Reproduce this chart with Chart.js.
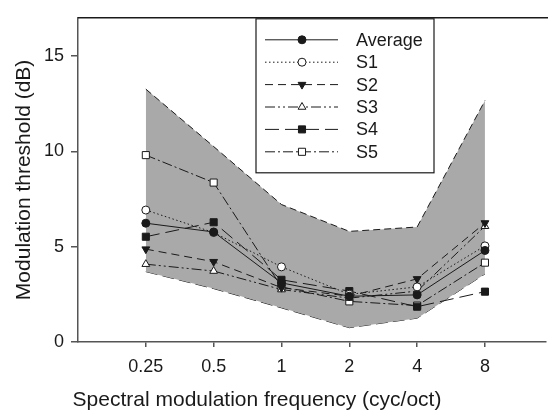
<!DOCTYPE html>
<html><head><meta charset="utf-8">
<script src="https://cdn.jsdelivr.net/npm/chart.js@4/dist/chart.umd.min.js"></script>
<style>html,body{margin:0;padding:0;background:#fff}#wrap{width:552px;height:417px;position:relative}</style>
</head><body><div id="wrap"><canvas id="c"></canvas></div>
<script>
const freqLabels = ['0.25', '0.5', '1', '2', '4', '8'];
const average = [6.23, 5.77, 3.10, 2.40, 2.47, 4.80];
const s1 = [6.92, 5.74, 3.94, 2.50, 2.89, 5.04];
const s2 = [4.87, 4.21, 2.85, 2.40, 3.31, 6.24];
const s3 = [4.08, 3.72, 2.75, 2.30, 2.67, 6.07];
const s4 = [5.52, 6.28, 3.26, 2.67, 1.85, 2.64];
const s5 = [9.80, 8.36, 2.89, 2.13, 1.91, 4.16];
const bandUpper = [13.26, 10.25, 7.21, 5.80, 6.03, 12.66];
const bandLower = [3.69, 2.80, 1.79, 0.75, 1.25, 3.57];
const yTicks = [0, 5, 10, 15];
const seriesNames = ['Average', 'S1', 'S2', 'S3', 'S4', 'S5'];
const xTitle = 'Spectral modulation frequency (cyc/oct)';
const yTitle = 'Modulation threshold (dB)';

const INK = '#1a1a1a';
const FONT = "'Liberation Sans', Arial, sans-serif";
const toPts = arr => arr.map((v, i) => ({x: i, y: v}));

const styles = [
  {dash: [], pointStyle: 'circle', fill: INK, r: 4, rot: 0},
  {dash: [1.5, 2.5], pointStyle: 'circle', fill: '#fff', r: 4, rot: 0},
  {dash: [8, 5], pointStyle: 'triangle', fill: INK, r: 4.5, rot: 180},
  {dash: [10, 3, 2, 3, 2, 3], pointStyle: 'triangle', fill: '#fff', r: 4.5, rot: 0},
  {dash: [14, 6], pointStyle: 'rect', fill: INK, r: 5, rot: 0},
  {dash: [10, 3, 2, 3], pointStyle: 'rect', fill: '#fff', r: 5, rot: 0}
];
const seriesData = [average, s1, s2, s3, s4, s5];

const lineSets = seriesData.map((d, k) => ({
  label: seriesNames[k],
  data: toPts(d),
  borderColor: INK,
  borderWidth: 1,
  borderDash: styles[k].dash,
  pointStyle: styles[k].pointStyle,
  pointRotation: styles[k].rot,
  pointRadius: styles[k].r,
  pointBackgroundColor: styles[k].fill,
  pointBorderColor: INK,
  pointBorderWidth: 1,
  fill: false,
  tension: 0,
  order: k + 1
}));

const bandSets = [
  {label: 'upper', data: toPts(bandUpper), borderColor: INK, borderWidth: 1, borderDash: [7, 4],
   pointRadius: 0, backgroundColor: '#a9a9a9', fill: 7, order: 20, tension: 0},
  {label: 'lower', data: toPts(bandLower), borderColor: INK, borderWidth: 1, borderDash: [12, 5],
   pointRadius: 0, fill: false, order: 21, tension: 0}
];

const decor = {
  id: 'decor',
  afterDraw(chart) {
    const ctx = chart.ctx, ca = chart.chartArea;
    ctx.save();
    // top border
    ctx.strokeStyle = INK; ctx.lineWidth = 1.5;
    ctx.beginPath(); ctx.moveTo(ca.left, ca.top); ctx.lineTo(ca.right + 2, ca.top); ctx.stroke();
    // x axis title (centred under the figure as in the original)
    ctx.fillStyle = INK; ctx.font = '21px ' + FONT; ctx.textAlign = 'center'; ctx.textBaseline = 'middle';
    ctx.fillText(xTitle, 257, chart.height - 17);
    // legend
    const bx = ca.left + 178, by = ca.top + 1, bw = 178, bh = 154;
    ctx.fillStyle = '#fff'; ctx.fillRect(bx, by, bw, bh);
    ctx.lineWidth = 1.2; ctx.strokeStyle = INK; ctx.strokeRect(bx, by, bw, bh);
    ctx.font = '18px ' + FONT; ctx.textBaseline = 'middle'; ctx.textAlign = 'left';
    seriesNames.forEach((name, k) => {
      const y = by + 21 + k * 22.4;
      ctx.strokeStyle = INK; ctx.lineWidth = 1; ctx.setLineDash(styles[k].dash);
      ctx.beginPath(); ctx.moveTo(bx + 9, y); ctx.lineTo(bx + 82, y); ctx.stroke();
      ctx.setLineDash([]);
      ctx.fillStyle = styles[k].fill;
      Chart.helpers.drawPoint(ctx, {pointStyle: styles[k].pointStyle, radius: styles[k].r,
        rotation: styles[k].rot, borderWidth: 1}, bx + 46, y);
      ctx.fillStyle = INK;
      ctx.fillText(name, bx + 100, y + 1);
    });
    ctx.restore();
  }
};

new Chart(document.getElementById('c'), {
  type: 'line',
  data: {datasets: [...lineSets, ...bandSets]},
  options: {
    responsive: true, maintainAspectRatio: false, animation: false,
    layout: {padding: {top: 7, right: 2, left: 0, bottom: 0}},
    plugins: {legend: {display: false}, tooltip: {enabled: false}},
    scales: {
      x: {
        type: 'linear', min: -1, max: 5.9,
        afterBuildTicks: s => { s.ticks = freqLabels.map((_, i) => ({value: i})); },
        afterFit: s => { s.height = 75; },
        ticks: {callback: v => freqLabels[v], color: INK, font: {family: FONT, size: 18}, padding: 9, maxRotation: 0, autoSkip: false},
        grid: {drawOnChartArea: false, drawTicks: true, tickLength: 5, color: '#555', lineWidth: 1.5},
        border: {color: '#555', width: 1.5},
        title: {display: false}
      },
      y: {
        min: 0, max: 17,
        afterBuildTicks: s => { s.ticks = yTicks.map(v => ({value: v})); },
        afterFit: s => { s.width = 78; },
        ticks: {color: INK, font: {family: FONT, size: 18}, padding: 7},
        grid: {drawOnChartArea: false, drawTicks: true, tickLength: 7, color: '#555', lineWidth: 1.5},
        border: {color: '#555', width: 1.5},
        title: {display: true, text: yTitle, color: INK,
          font: {family: FONT, size: 21}, padding: {top: 12, bottom: 0}}
      }
    }
  },
  plugins: [decor]
});
</script>
</body></html>
